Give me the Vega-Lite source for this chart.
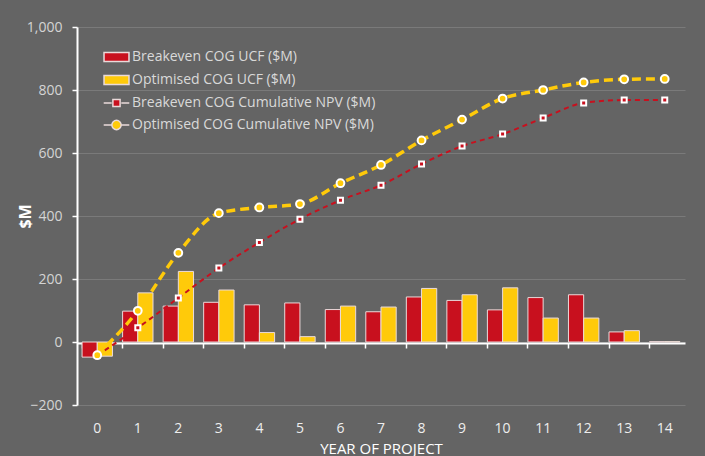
{
  "$schema": "https://vega.github.io/schema/vega-lite/v6.json",
  "width": 608,
  "height": 378,
  "autosize": {"type": "none"},
  "padding": {"left": 77, "top": 27, "right": 20, "bottom": 51},
  "background": "#646464",
  "config": {"view": {"stroke": null}, "font": "Open Sans"},
  "data": {"values": [
    {"year": 0, "series": "Breakeven COG UCF ($M)", "value": -48},
    {"year": 1, "series": "Breakeven COG UCF ($M)", "value": 98},
    {"year": 2, "series": "Breakeven COG UCF ($M)", "value": 114},
    {"year": 3, "series": "Breakeven COG UCF ($M)", "value": 126},
    {"year": 4, "series": "Breakeven COG UCF ($M)", "value": 118},
    {"year": 5, "series": "Breakeven COG UCF ($M)", "value": 124},
    {"year": 6, "series": "Breakeven COG UCF ($M)", "value": 103},
    {"year": 7, "series": "Breakeven COG UCF ($M)", "value": 96},
    {"year": 8, "series": "Breakeven COG UCF ($M)", "value": 143},
    {"year": 9, "series": "Breakeven COG UCF ($M)", "value": 132},
    {"year": 10, "series": "Breakeven COG UCF ($M)", "value": 102},
    {"year": 11, "series": "Breakeven COG UCF ($M)", "value": 141},
    {"year": 12, "series": "Breakeven COG UCF ($M)", "value": 150},
    {"year": 13, "series": "Breakeven COG UCF ($M)", "value": 32},
    {"year": 14, "series": "Breakeven COG UCF ($M)", "value": 1},
    {"year": 0, "series": "Optimised COG UCF ($M)", "value": -45},
    {"year": 1, "series": "Optimised COG UCF ($M)", "value": 156},
    {"year": 2, "series": "Optimised COG UCF ($M)", "value": 224},
    {"year": 3, "series": "Optimised COG UCF ($M)", "value": 165},
    {"year": 4, "series": "Optimised COG UCF ($M)", "value": 30},
    {"year": 5, "series": "Optimised COG UCF ($M)", "value": 17},
    {"year": 6, "series": "Optimised COG UCF ($M)", "value": 114},
    {"year": 7, "series": "Optimised COG UCF ($M)", "value": 111},
    {"year": 8, "series": "Optimised COG UCF ($M)", "value": 170},
    {"year": 9, "series": "Optimised COG UCF ($M)", "value": 150},
    {"year": 10, "series": "Optimised COG UCF ($M)", "value": 172},
    {"year": 11, "series": "Optimised COG UCF ($M)", "value": 76},
    {"year": 12, "series": "Optimised COG UCF ($M)", "value": 76},
    {"year": 13, "series": "Optimised COG UCF ($M)", "value": 36},
    {"year": 14, "series": "Optimised COG UCF ($M)", "value": 1},
    {"year": 0, "series": "Breakeven COG Cumulative NPV ($M)", "value": -42},
    {"year": 1, "series": "Breakeven COG Cumulative NPV ($M)", "value": 45},
    {"year": 2, "series": "Breakeven COG Cumulative NPV ($M)", "value": 140},
    {"year": 3, "series": "Breakeven COG Cumulative NPV ($M)", "value": 235},
    {"year": 4, "series": "Breakeven COG Cumulative NPV ($M)", "value": 316},
    {"year": 5, "series": "Breakeven COG Cumulative NPV ($M)", "value": 390},
    {"year": 6, "series": "Breakeven COG Cumulative NPV ($M)", "value": 450},
    {"year": 7, "series": "Breakeven COG Cumulative NPV ($M)", "value": 498},
    {"year": 8, "series": "Breakeven COG Cumulative NPV ($M)", "value": 565},
    {"year": 9, "series": "Breakeven COG Cumulative NPV ($M)", "value": 622},
    {"year": 10, "series": "Breakeven COG Cumulative NPV ($M)", "value": 660},
    {"year": 11, "series": "Breakeven COG Cumulative NPV ($M)", "value": 711},
    {"year": 12, "series": "Breakeven COG Cumulative NPV ($M)", "value": 759},
    {"year": 13, "series": "Breakeven COG Cumulative NPV ($M)", "value": 768},
    {"year": 14, "series": "Breakeven COG Cumulative NPV ($M)", "value": 768},
    {"year": 0, "series": "Optimised COG Cumulative NPV ($M)", "value": -42},
    {"year": 1, "series": "Optimised COG Cumulative NPV ($M)", "value": 99},
    {"year": 2, "series": "Optimised COG Cumulative NPV ($M)", "value": 283},
    {"year": 3, "series": "Optimised COG Cumulative NPV ($M)", "value": 409},
    {"year": 4, "series": "Optimised COG Cumulative NPV ($M)", "value": 427},
    {"year": 5, "series": "Optimised COG Cumulative NPV ($M)", "value": 438},
    {"year": 6, "series": "Optimised COG Cumulative NPV ($M)", "value": 504},
    {"year": 7, "series": "Optimised COG Cumulative NPV ($M)", "value": 562},
    {"year": 8, "series": "Optimised COG Cumulative NPV ($M)", "value": 640},
    {"year": 9, "series": "Optimised COG Cumulative NPV ($M)", "value": 706},
    {"year": 10, "series": "Optimised COG Cumulative NPV ($M)", "value": 773},
    {"year": 11, "series": "Optimised COG Cumulative NPV ($M)", "value": 800},
    {"year": 12, "series": "Optimised COG Cumulative NPV ($M)", "value": 824},
    {"year": 13, "series": "Optimised COG Cumulative NPV ($M)", "value": 834},
    {"year": 14, "series": "Optimised COG Cumulative NPV ($M)", "value": 835}
  ]},
  "encoding": {
    "x": {
      "field": "year",
      "type": "ordinal",
      "scale": {"paddingInner": 0.25, "paddingOuter": 0.125},
      "axis": {
        "title": "YEAR OF PROJECT",
        "offset": -62,
        "labelPadding": 73,
        "tickSize": 5,
        "tickColor": "#ffffff",
        "tickWidth": 1.5,
        "domainColor": "#ffffff",
        "domainWidth": 2,
        "bandPosition": 0,
        "labelAngle": 0,
        "labelColor": "#eeeeee",
        "labelFontSize": 14,
        "titleColor": "#ffffff",
        "titleFontSize": 15,
        "titleFontWeight": "normal",
        "titlePadding": 6,
        "grid": false
      }
    },
    "y": {
      "field": "value",
      "type": "quantitative",
      "scale": {"domain": [-200, 1000], "nice": false},
      "axis": {
        "title": "$M",
        "values": [-200, 0, 200, 400, 600, 800, 1000],
        "format": ",d",
        "tickSize": 5,
        "tickColor": "#ffffff",
        "tickWidth": 1.5,
        "domainColor": "#ffffff",
        "domainWidth": 2,
        "labelColor": "#d4d4d4",
        "labelFontSize": 14,
        "labelPadding": 10,
        "gridColor": "#7a7a7a",
        "gridWidth": 1,
        "titleColor": "#ffffff",
        "titleFontSize": 16,
        "titleFontWeight": "bold",
        "titleX": -52,
        "titleY": 189,
        "titleAngle": 270,
        "titleAlign": "center",
        "titleBaseline": "middle"
      }
    }
  },
  "layer": [
    {
      "transform": [{"filter": "indexof(datum.series, 'UCF') >= 0"}],
      "mark": {"type": "bar", "stroke": "#eadada", "strokeWidth": 1},
      "encoding": {
        "xOffset": {"field": "series", "sort": ["Breakeven COG UCF ($M)", "Optimised COG UCF ($M)"]},
        "color": {
          "field": "series",
          "type": "nominal",
          "scale": {
            "domain": ["Breakeven COG UCF ($M)", "Optimised COG UCF ($M)", "Breakeven COG Cumulative NPV ($M)", "Optimised COG Cumulative NPV ($M)"],
            "range": ["#C8101E", "#FFCA0A", "#C8101E", "#FFCA0A"]
          },
          "legend": {
            "orient": "none",
            "legendX": 30.5,
            "legendY": 21,
            "title": null,
            "padding": 0,
            "symbolSize": 256,
            "symbolType": {"expr": "datum.index < 2 ? 'M-1.56,-0.56H1.56V0.56H-1.56Z' : datum.index == 2 ? 'M-1.6,0H-0.6M0.6,0H1.6M-0.45,-0.45H0.45V0.45H-0.45Z' : 'M-1.6,0H-0.65M0.65,0H1.6M0.58,0A0.58,0.58,0,1,1,-0.58,0A0.58,0.58,0,1,1,0.58,0Z'"},
            "rowPadding": 6,
            "labelOffset": 6.5,
            "labelLimit": 400,
            "labelColor": "#d9d9d9",
            "labelFontSize": 14,
            "labelFont": "Open Sans",
            "encode": {
              "symbols": {
                "fill": {"signal": "scale('color', datum.value)"},
                "stroke": {"signal": "datum.index < 2 ? '#eadada' : scale('color', datum.value)"},
                "strokeWidth": {"signal": "datum.index < 2 ? 1 : 2"},
                "opacity": {"value": 1}
              }
            }
          }
        }
      }
    },
    {
      "transform": [{"filter": "datum.series == 'Breakeven COG Cumulative NPV ($M)'"}],
      "mark": {"type": "line", "interpolate": "monotone", "stroke": "#C8101E", "strokeWidth": 2, "strokeDash": [5, 4]},
      "encoding": {}
    },
    {
      "transform": [{"filter": "datum.series == 'Optimised COG Cumulative NPV ($M)'"}],
      "mark": {"type": "line", "interpolate": "monotone", "stroke": "#FFCA0A", "strokeWidth": 3.5, "strokeDash": [9, 5]},
      "encoding": {}
    },
    {
      "transform": [{"filter": "datum.series == 'Breakeven COG Cumulative NPV ($M)'"}],
      "mark": {"type": "point", "shape": "square", "filled": true, "fill": "#C8101E", "size": 25, "stroke": "#ffffff", "strokeWidth": 2, "opacity": 1},
      "encoding": {}
    },
    {
      "transform": [{"filter": "datum.series == 'Optimised COG Cumulative NPV ($M)'"}],
      "mark": {"type": "point", "shape": "circle", "filled": true, "fill": "#FFCA0A", "size": 60, "stroke": "#ffffff", "strokeWidth": 2, "opacity": 1},
      "encoding": {}
    }
  ]
}
